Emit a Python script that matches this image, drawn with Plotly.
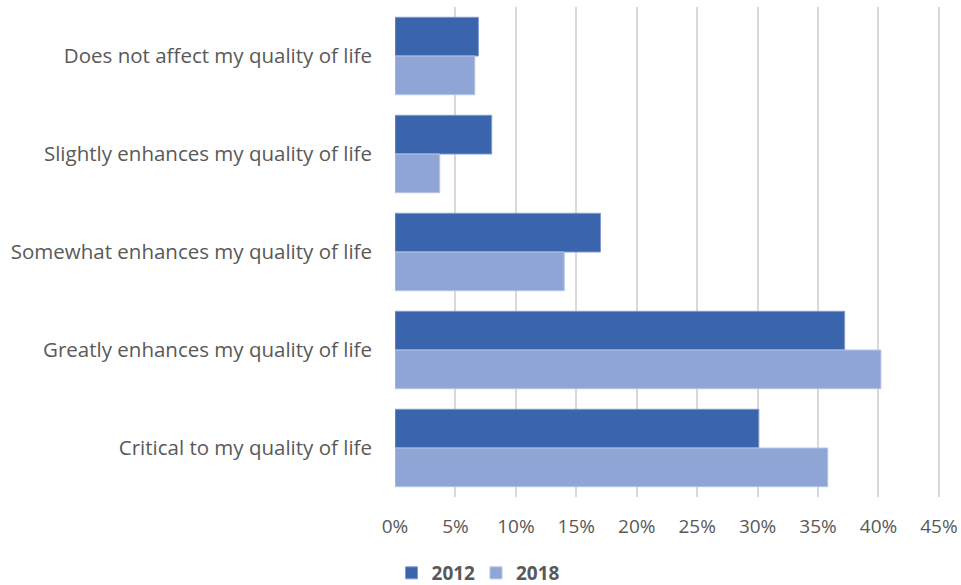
import plotly.graph_objects as go

# ==========================================================
# DATA
# ==========================================================

categories = [
    "Does not affect my quality of life",
    "Slightly enhances my quality of life",
    "Somewhat enhances my quality of life",
    "Greatly enhances my quality of life",
    "Critical to my quality of life",
]

values_2012 = [6.9, 8.0, 17.0, 37.2, 30.1]
values_2018 = [6.6, 3.7, 14.0, 40.2, 35.8]

x_ticks = [0, 5, 10, 15, 20, 25, 30, 35, 40, 45]
x_tick_labels = [f"{t}%" for t in x_ticks]

# ==========================================================
# FIGURE
# ==========================================================

font_family = "Open Sans, Liberation Sans, sans-serif"
legend_font = dict(size=19, color="#595959", weight="bold")

fig = go.Figure()

fig.add_trace(
    go.Bar(
        y=categories,
        x=values_2012,
        name="2012",
        orientation="h",
        legend="legend",
        marker=dict(color="#3A64AB", line=dict(color="#7F9BD0", width=1)),
    )
)

fig.add_trace(
    go.Bar(
        y=categories,
        x=values_2018,
        name="2018",
        orientation="h",
        legend="legend2",
        marker=dict(color="#8FA5D5", line=dict(color="#B4C4E6", width=1)),
    )
)

fig.update_layout(
    width=961,
    height=585,
    margin=dict(l=395, r=10, t=7, b=88, autoexpand=False),
    barmode="group",
    bargap=0.21,
    bargroupgap=0,
    plot_bgcolor="white",
    paper_bgcolor="white",
    font=dict(family=font_family, size=19, color="#595959"),
    showlegend=True,
    # one legend per series so the two entries sit close together
    legend=dict(
        xref="container",
        yref="container",
        x=0.4074,
        y=0.0205,
        xanchor="left",
        yanchor="middle",
        bgcolor="rgba(0,0,0,0)",
        font=legend_font,
    ),
    legend2=dict(
        xref="container",
        yref="container",
        x=0.4953,
        y=0.0205,
        xanchor="left",
        yanchor="middle",
        bgcolor="rgba(0,0,0,0)",
        font=legend_font,
    ),
)

fig.update_xaxes(
    range=[0, 46],
    tickvals=x_ticks,
    ticktext=x_tick_labels,
    showgrid=True,
    gridcolor="#D9D9D9",
    gridwidth=2,
    zeroline=False,
    showline=False,
    ticks="",
    ticklabelstandoff=16,
    automargin=False,
    tickfont=dict(size=19, color="#595959"),
)

fig.update_yaxes(
    autorange="reversed",
    showgrid=False,
    zeroline=False,
    showline=False,
    ticks="",
    ticklabelstandoff=22,
    automargin=False,
    tickfont=dict(size=20.5, color="#595959"),
)

# drop the default 8px page margin so the figure fills the window exactly
fig.write_html(
    "out.html",
    config={"displayModeBar": False},
    post_script="document.body.style.margin = '0px';",
)
